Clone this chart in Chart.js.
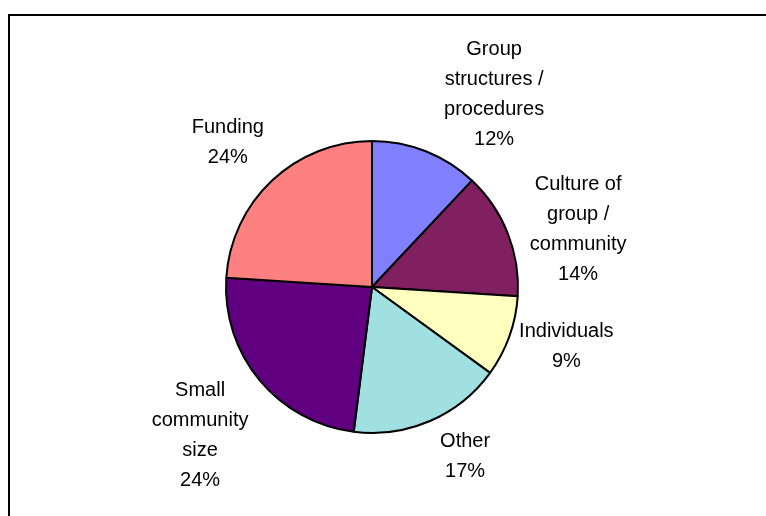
<!DOCTYPE html>
<html>
<head>
<meta charset="utf-8">
<title>Barriers pie</title>
<script src="https://cdn.jsdelivr.net/npm/chart.js@4/dist/chart.umd.min.js"></script>
<style>
  html, body { margin: 0; padding: 0; background: #fff; }
  #wrap { position: relative; width: 766px; height: 516px; }
</style>
</head>
<body>
<div id="wrap"><canvas id="pie" width="766" height="516"></canvas></div>
<script>
// Categories (each entry is the label split into its drawn lines)
var categories = [
    ['Group', 'structures /', 'procedures'],
    ['Culture of', 'group /', 'community'],
    ['Individuals'],
    ['Other'],
    ['Small', 'community', 'size'],
    ['Funding']
];
var shares = [12, 14, 9, 17, 24, 24];
var sliceColors = ['#8080FF', '#802060', '#FFFFC0', '#A0E0E0', '#600080', '#FF8080'];

// small shifts so the outside labels sit where they read best
var labelNudge = [[47, 0], [18, 18], [5, -3], [22, 4], [-16, 14], [-14, -16]];

var frame = {
    id: 'frame',
    beforeDraw: function (chart) {
        var ctx = chart.ctx;
        ctx.save();
        ctx.strokeStyle = '#000';
        ctx.lineWidth = 2;
        ctx.strokeRect(9, 15, 900, 700);
        ctx.restore();
    }
};

var outsideLabels = {
    id: 'outsideLabels',
    afterDatasetsDraw: function (chart) {
        var ctx = chart.ctx;
        var meta = chart.getDatasetMeta(0);
        var total = shares.reduce(function (a, b) { return a + b; }, 0);
        var lineH = 30;
        ctx.save();
        ctx.font = '20px "Liberation Sans", Arial, sans-serif';
        ctx.fillStyle = '#000';
        ctx.textAlign = 'center';
        ctx.textBaseline = 'alphabetic';
        meta.data.forEach(function (arc, i) {
            var p = arc.getProps(['x', 'y', 'startAngle', 'endAngle', 'outerRadius'], true);
            var mid = (p.startAngle + p.endAngle) / 2;
            var dx = Math.cos(mid), dy = Math.sin(mid);
            var lines = categories[i].concat([Math.round(shares[i] / total * 100) + '%']);
            var w = 0;
            lines.forEach(function (t) { w = Math.max(w, ctx.measureText(t).width); });
            var h = (lines.length - 1) * lineH + 20;
            var r = p.outerRadius + 8;
            var cx = p.x + r * dx + dx * w / 2 + labelNudge[i][0];
            var cy = p.y + r * dy + dy * h / 2 + labelNudge[i][1];
            var y0 = cy - (lines.length - 1) * lineH / 2 + 7;
            lines.forEach(function (t, k) {
                ctx.fillText(t, cx, y0 + k * lineH);
            });
        });
        ctx.restore();
    }
};

var ctx = document.getElementById('pie').getContext('2d');
new Chart(ctx, {
    type: 'pie',
    data: {
        labels: categories.map(function (l) { return l.join(' '); }),
        datasets: [{
            data: shares,
            backgroundColor: sliceColors,
            borderColor: '#000',
            borderWidth: 2
        }]
    },
    options: {
        responsive: false,
        animation: false,
        layout: { padding: { left: 225, right: 247, top: 140, bottom: 82 } },
        plugins: {
            legend: { display: false },
            tooltip: { enabled: false }
        }
    },
    plugins: [frame, outsideLabels]
});
</script>
</body>
</html>
